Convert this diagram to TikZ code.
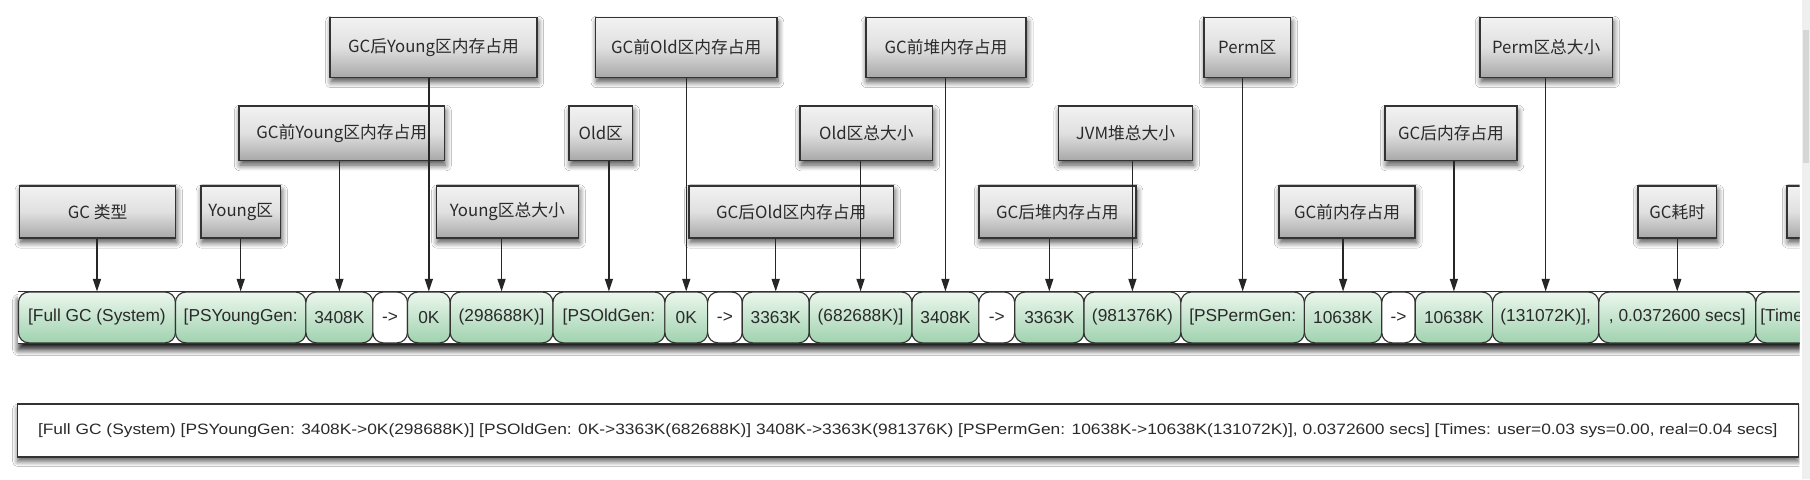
\documentclass[tikz,border=0pt]{standalone}
\usepackage{fontspec}
\usepackage{graphicx}
\setmainfont{Liberation Sans}
\newfontfamily\cjk{Noto Sans CJK SC}
\usetikzlibrary{arrows.meta,shadows.blur}
\definecolor{labtop}{HTML}{F2F2F2}
\definecolor{labmid}{HTML}{E0E0E0}
\definecolor{labbot}{HTML}{A8A8A8}
\definecolor{celltop}{HTML}{ECF7EE}
\definecolor{cellbot}{HTML}{A0D2AE}
\definecolor{edge}{HTML}{333333}
\definecolor{txt}{HTML}{2A2A2A}
\definecolor{sbar}{HTML}{EFEFEF}
\definecolor{sthumb}{HTML}{D6D6D6}
\tikzset{
  lab/.style={draw=edge, line width=1.3pt, top color=labtop, bottom color=labbot, middle color=labmid,
    inner sep=0pt, text=txt, font=\cjk\fontsize{14.5}{16}\selectfont,
    blur shadow={shadow xshift=1pt, shadow yshift=-4pt, shadow blur radius=5pt, shadow blur steps=8, shadow opacity=70}},
  cell/.style={draw=edge, line width=1pt, rounded corners=9pt, top color=celltop, bottom color=cellbot,
    inner sep=0pt, minimum height=44pt, text=txt, font=\fontsize{15}{17}\selectfont},
  wcell/.style={cell, top color=white, bottom color=white},
  arr/.style={line width=1.2pt, draw=black!85, -{Triangle[width=7pt,length=11pt]}},
  rowline/.style={line width=1.4pt, draw=edge},
  botbox/.style={draw=edge, line width=1.3pt, fill=white, inner sep=0pt, text=txt,
    font=\fontsize{13}{15}\selectfont,
    blur shadow={shadow xshift=0pt, shadow yshift=-4pt, shadow blur radius=4pt, shadow blur steps=8, shadow opacity=60}},
}
\begin{document}
\begin{tikzpicture}[x=1pt,y=-1pt]
\useasboundingbox (0,0) rectangle (1568,415);
\fill[white] (0,0) rectangle (1568,415);
\begin{scope}
\clip (0,0) rectangle (1559,415);
% ---- label boxes, row 1
\node[lab, minimum width=179pt, minimum height=52pt] (L1) at (375.5,41) {GC后Young区内存占用};
\node[lab, minimum width=157pt, minimum height=52pt] (L2) at (594.5,41) {GC前Old区内存占用};
\node[lab, minimum width=139pt, minimum height=52pt] (L3) at (819.5,41) {GC前堆内存占用};
\node[lab, minimum width=75pt, minimum height=52pt] (L4) at (1080.5,41) {Perm区};
\node[lab, minimum width=115pt, minimum height=52pt] (L5) at (1339.5,41) {Perm区总大小};
% ---- row 2
\node[lab, minimum width=178pt, minimum height=47pt] (L6) at (296,115.5) {GC前Young区内存占用};
\node[lab, minimum width=55pt, minimum height=47pt] (L7) at (520.5,115.5) {Old区};
\node[lab, minimum width=115pt, minimum height=47pt] (L8) at (750.5,115.5) {Old区总大小};
\node[lab, minimum width=116pt, minimum height=47pt] (L9) at (975,115.5) {JVM堆总大小};
\node[lab, minimum width=114pt, minimum height=47pt] (L10) at (1257,115.5) {GC后内存占用};
% ---- row 3
\node[lab, minimum width=135pt, minimum height=45pt] (L11) at (84.5,183.5) {GC 类型};
\node[lab, minimum width=69pt, minimum height=45pt] (L12) at (208.5,183.5) {Young区};
\node[lab, minimum width=123pt, minimum height=45pt] (L13) at (439.5,183.5) {Young区总大小};
\node[lab, minimum width=177pt, minimum height=45pt] (L14) at (685.5,183.5) {GC后Old区内存占用};
\node[lab, minimum width=136pt, minimum height=45pt] (L15) at (916,183.5) {GC后堆内存占用};
\node[lab, minimum width=118pt, minimum height=45pt] (L16) at (1167,183.5) {GC前内存占用};
\node[lab, minimum width=68pt, minimum height=45pt] (L17) at (1453,183.5) {GC耗时};
\node[lab, minimum width=72pt, minimum height=45pt] (L18) at (1584,183.5) {};
% ---- row shadow
\path[fill=white, blur shadow={shadow xshift=0pt, shadow yshift=-6pt, shadow blur radius=5pt, shadow blur steps=10, shadow opacity=90}]
  (16,254) rectangle (1600,297);
% ---- data cells (y 253..297)
\node[cell, minimum width=136pt] (c1) at (84,275) {[Full GC (System)};
\node[cell, minimum width=113pt] (c2) at (208.5,275) {[PSYoungGen:};
\node[cell, minimum width=58pt] (c3) at (294,275) {3408K};
\node[wcell, minimum width=30pt] (c4) at (338,275) {->};
\node[cell, minimum width=37pt] (c5) at (371.5,275) {0K};
\node[cell, minimum width=89pt] (c6) at (434.5,275) {(298688K)]};
\node[cell, minimum width=97pt] (c7) at (527.5,275) {[PSOldGen:};
\node[cell, minimum width=37pt] (c8) at (594.5,275) {0K};
\node[wcell, minimum width=30pt] (c9) at (628,275) {->};
\node[cell, minimum width=58pt] (c10) at (672,275) {3363K};
\node[cell, minimum width=89pt] (c11) at (745.5,275) {(682688K)]};
\node[cell, minimum width=58pt] (c12) at (819,275) {3408K};
\node[wcell, minimum width=31pt] (c13) at (863.5,275) {->};
\node[cell, minimum width=60pt] (c14) at (909,275) {3363K};
\node[cell, minimum width=84pt] (c15) at (981,275) {(981376K)};
\node[cell, minimum width=107pt] (c16) at (1076.5,275) {[PSPermGen:};
\node[cell, minimum width=67pt] (c17) at (1163.5,275) {10638K};
\node[wcell, minimum width=29pt] (c18) at (1211.5,275) {->};
\node[cell, minimum width=67pt] (c19) at (1259.5,275) {10638K};
\node[cell, minimum width=92pt] (c20) at (1339,275) {(131072K)],};
\node[cell, minimum width=136pt] (c21) at (1453,275) {, 0.0372600 secs]};
\node[cell, minimum width=80pt, text width=72pt, align=left] (c22) at (1561,275) {[Times:};
\draw[rowline] (c1.north west) -- (c22.north east);
\draw[rowline] (c1.south west) -- (c22.south east);
% ---- arrows
\draw[arr] (L11.south -| c1.north) -- (c1.north);
\draw[arr] (L12.south -| c2.north) -- (c2.north);
\draw[arr] (L6.south -| c3.north) -- (c3.north);
\draw[arr] (L1.south -| c5.north) -- (c5.north);
\draw[arr] (L13.south -| c6.north) -- (c6.north);
\draw[arr] (L7.south -| c7.north) -- (c7.north);
\draw[arr] (L2.south -| c8.north) -- (c8.north);
\draw[arr] (L14.south -| c10.north) -- (c10.north);
\draw[arr] (L8.south -| c11.north) -- (c11.north);
\draw[arr] (L3.south -| c12.north) -- (c12.north);
\draw[arr] (L15.south -| c14.north) -- (c14.north);
\draw[arr] (L9.south -| c15.north) -- (c15.north);
\draw[arr] (L4.south -| c16.north) -- (c16.north);
\draw[arr] (L16.south -| c17.north) -- (c17.north);
\draw[arr] (L10.south -| c19.north) -- (c19.north);
\draw[arr] (L5.south -| c20.north) -- (c20.north);
\draw[arr] (L17.south -| c21.north) -- (c21.north);
% ---- bottom box
\node[botbox, minimum width=1543pt, minimum height=46pt] (bot) at (786.5,373)
  {\resizebox{1507pt}{\height}{[Full GC (System) [PSYoungGen: 3408K->0K(298688K)] [PSOldGen: 0K->3363K(682688K)] 3408K->3363K(981376K) [PSPermGen: 10638K->10638K(131072K)], 0.0372600 secs] [Times: user=0.03 sys=0.00, real=0.04 secs]}};
\end{scope}
% ---- scroll bar
\fill[sbar] (1561,0) rectangle (1568,415);
\fill[sthumb] (1562,26) rectangle (1567,141);
\end{tikzpicture}
\end{document}
